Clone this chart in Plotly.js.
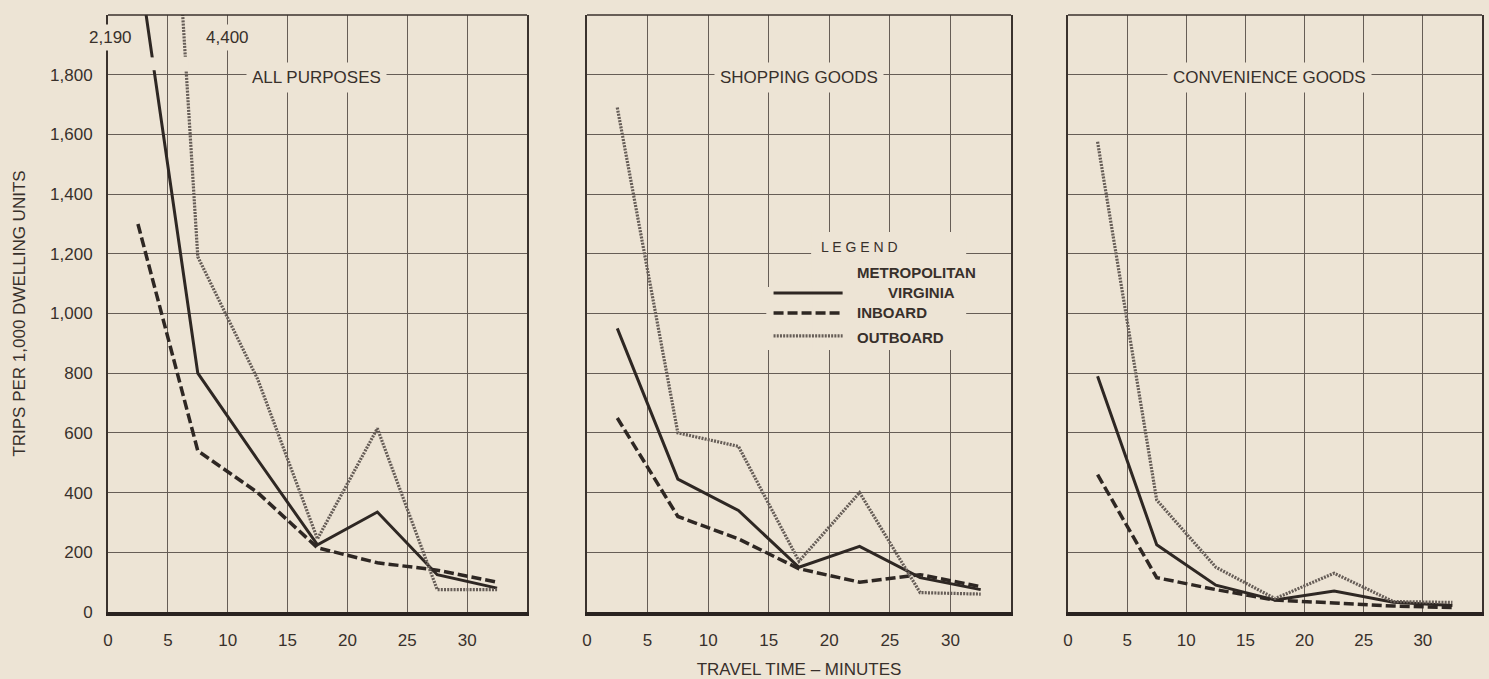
<!DOCTYPE html>
<html>
<head>
<meta charset="utf-8">
<script src="https://cdn.plot.ly/plotly-3.0.1.min.js"></script>
<style>
  html, body { margin: 0; padding: 0; background: #ede4d5; }
  #chart { width: 1489px; height: 679px; }
</style>
</head>
<body>
<div id="chart"></div>
<script>
// ---- data ----
const travelTime = [2.5, 7.5, 12.5, 17.5, 22.5, 27.5, 32.5];

const allMetro     = [2190, 800, 510, 225, 335, 125, 80];
const allInboard   = [1300, 540, 400, 215, 165, 140, 100];
const allOutboard  = [4400, 1190, 780, 245, 615, 75, 75];

const shopMetro    = [950, 445, 340, 150, 220, 115, 75];
const shopInboard  = [650, 320, 245, 145, 100, 125, 85];
const shopOutboard = [1690, 600, 555, 170, 400, 65, 60];

const convMetro    = [790, 225, 90, 40, 70, 33, 22];
const convInboard  = [460, 115, 75, 40, 30, 20, 15];
const convOutboard = [1575, 375, 150, 45, 130, 35, 32];

const panelTitles  = ["ALL PURPOSES", "SHOPPING GOODS", "CONVENIENCE GOODS"];
const seriesNames  = ["METROPOLITAN VIRGINIA", "INBOARD", "OUTBOARD"];
const yTickVals    = [0, 200, 400, 600, 800, 1000, 1200, 1400, 1600, 1800];
const xTickVals    = [0, 5, 10, 15, 20, 25, 30];
const offScaleLabels = ["2,190", "4,400"];

// ---- styles ----
const BG = "#ede4d5";
const INK = "#38302b";
const GRID = "#665d56";
const FONT = "Liberation Sans, Arial, sans-serif";

const styles = [
  {color: "#2e2723", width: 3, dash: "solid"},
  {color: "#2e2723", width: 3.5, dash: "10px,4px"},
  {color: "#665d57", width: 3.2, dash: "2px,1.2px"}
];

const panels = [
  [allMetro, allInboard, allOutboard],
  [shopMetro, shopInboard, shopOutboard],
  [convMetro, convInboard, convOutboard]
];

const traces = [];
panels.forEach((series, p) => {
  const ax = p === 0 ? "" : String(p + 1);
  series.forEach((vals, s) => {
    traces.push({
      type: "scatter", mode: "lines",
      x: travelTime, y: vals,
      name: seriesNames[s],
      showlegend: false,
      xaxis: "x" + ax, yaxis: "y" + ax,
      line: {color: styles[s].color, width: styles[s].width, dash: styles[s].dash},
      hoverinfo: "x+y+name"
    });
  });
});

const domains = [[0.03371, 0.32795], [0.37008, 0.66784], [0.70787, 0.99860]];

function xAxis(i, withTitle) {
  const a = {
    domain: domains[i], range: [0, 35], anchor: i === 0 ? "y" : "y" + (i + 1),
    tickvals: xTickVals, ticktext: xTickVals.map(String),
    showgrid: true, gridcolor: GRID, gridwidth: 1,
    zeroline: false, showline: true, linecolor: "#2a2320", linewidth: 3.5,
    ticks: "", ticklabelstandoff: 10,
    tickfont: {family: FONT, size: 17, color: INK},
    fixedrange: true
  };
  if (withTitle) {
    a.title = {text: "TRAVEL TIME – MINUTES", font: {family: FONT, size: 17, color: INK}, standoff: 20};
  }
  return a;
}
function yAxis(i) {
  const a = {
    domain: [0, 1], range: [0, 2000], anchor: i === 0 ? "x" : "x" + (i + 1),
    tickvals: yTickVals, tickformat: ",d",
    showticklabels: i === 0,
    showgrid: true, gridcolor: GRID, gridwidth: 1,
    zeroline: false, showline: true, linecolor: "#3a322d", linewidth: 2, mirror: true,
    ticks: "", ticklabelstandoff: 10,
    tickfont: {family: FONT, size: 17, color: INK},
    fixedrange: true
  };
  if (i === 0) {
    a.title = {text: "TRIPS PER 1,000 DWELLING UNITS", font: {family: FONT, size: 17, color: INK}, standoff: 20};
  }
  return a;
}

const shapes = [];
// top borders of each panel
["", "2", "3"].forEach(ax => {
  shapes.push({type: "line", xref: "x" + ax + " domain", yref: "y" + ax + " domain",
    x0: 0, x1: 1, y0: 1, y1: 1, line: {color: "#3a322d", width: 1.6}, layer: "above"});
});
// little breaks in the off-scale lines (panel 1)
shapes.push({type: "rect", xref: "x", yref: "y", x0: 3.4, x1: 4.2, y0: 1815, y1: 1858,
  fillcolor: BG, line: {width: 0}, layer: "above"});
shapes.push({type: "rect", xref: "x", yref: "y", x0: 5.8, x1: 6.7, y0: 1812, y1: 1860,
  fillcolor: BG, line: {width: 0}, layer: "above"});
// legend background (panel 2) masks the grid
shapes.push({type: "rect", xref: "x2", yref: "y2", x0: 18.5, x1: 31.3, y0: 878, y1: 1273,
  fillcolor: BG, line: {width: 0}, layer: "above"});
shapes.push({type: "rect", xref: "x2", yref: "y2", x0: 14.8, x1: 18.6, y0: 878, y1: 1089,
  fillcolor: BG, line: {width: 0}, layer: "above"});
// legend samples
const sampleY = [1069, 1002, 925];
styles.forEach((st, s) => {
  shapes.push({type: "line", xref: "x2", yref: "y2", x0: 15.4, x1: 21.1, y0: sampleY[s], y1: sampleY[s],
    line: {color: st.color, width: st.width, dash: st.dash}, layer: "above"});
});

const annFont = {family: FONT, size: 17, color: INK};
const annotations = [
  {xref: "x", yref: "y", x: 17.4, y: 1790, text: panelTitles[0], showarrow: false,
   font: annFont, bgcolor: BG, borderpad: 5},
  {xref: "x2", yref: "y2", x: 17.5, y: 1790, text: panelTitles[1], showarrow: false,
   font: annFont, bgcolor: BG, borderpad: 5},
  {xref: "x3", yref: "y3", x: 17.0, y: 1790, text: panelTitles[2], showarrow: false,
   font: annFont, bgcolor: BG, borderpad: 5},
  {xref: "x", yref: "y", x: 0.25, y: 1926, text: offScaleLabels[0], showarrow: false,
   font: annFont, bgcolor: BG, borderpad: 3},
  {xref: "x", yref: "y", x: 10.0, y: 1926, text: offScaleLabels[1], showarrow: false,
   font: annFont, bgcolor: BG, borderpad: 3},
  // legend texts
  {xref: "x2", yref: "y2", x: 22.5, y: 1223, text: "L E G E N D", showarrow: false,
   font: {family: FONT, size: 14, color: INK}, bgcolor: BG, borderpad: 4},
  {xref: "x2", yref: "y2", x: 22.1, y: 1136, xanchor: "left", text: "<b>METROPOLITAN</b>", showarrow: false,
   font: {family: FONT, size: 15, color: INK}},
  {xref: "x2", yref: "y2", x: 27.6, y: 1069, text: "<b>VIRGINIA</b>", showarrow: false,
   font: {family: FONT, size: 15, color: INK}},
  {xref: "x2", yref: "y2", x: 22.1, y: 1002, xanchor: "left", text: "<b>INBOARD</b>", showarrow: false,
   font: {family: FONT, size: 15, color: INK}},
  {xref: "x2", yref: "y2", x: 22.1, y: 921, xanchor: "left", text: "<b>OUTBOARD</b>", showarrow: false,
   font: {family: FONT, size: 15, color: INK}}
];

const layout = {
  width: 1489, height: 679,
  paper_bgcolor: BG, plot_bgcolor: BG,
  margin: {l: 60, r: 5, t: 15, b: 67},
  showlegend: false,
  xaxis: xAxis(0, false), yaxis: yAxis(0),
  xaxis2: xAxis(1, true), yaxis2: yAxis(1),
  xaxis3: xAxis(2, false), yaxis3: yAxis(2),
  shapes: shapes,
  annotations: annotations,
  font: {family: FONT, color: INK}
};

Plotly.newPlot("chart", traces, layout, {displayModeBar: false, staticPlot: true});
</script>
</body>
</html>
